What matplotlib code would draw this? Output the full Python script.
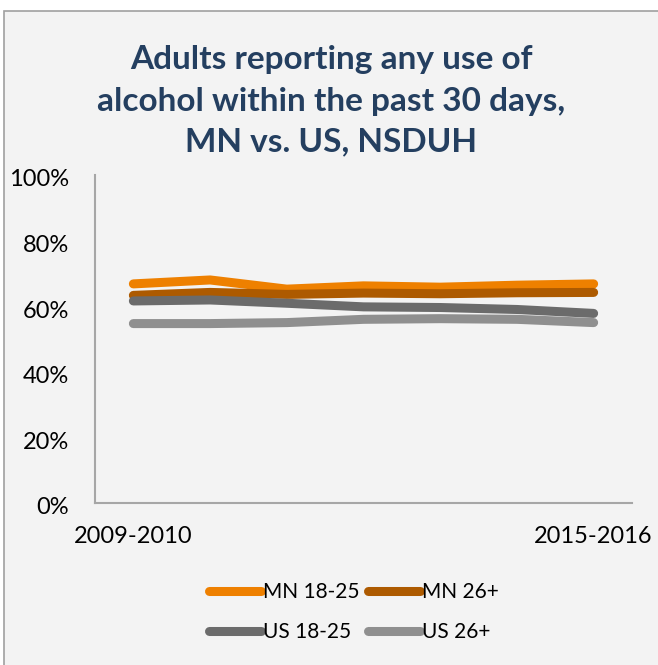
import matplotlib.pyplot as plt
import matplotlib.transforms as mtransforms
from matplotlib.lines import Line2D

# Datos (porcentaje de adultos, lectura aproximada del gráfico)
periods = ["2009-2010", "2010-2011", "2011-2012", "2012-2013",
           "2013-2014", "2014-2015", "2015-2016"]
mn_18_25 = [66.8, 68.0, 65.2, 66.2, 65.8, 66.4, 66.8]
mn_26p = [63.3, 64.2, 63.6, 64.0, 63.8, 64.1, 64.2]
us_18_25 = [61.6, 61.9, 60.9, 59.8, 59.6, 59.0, 57.8]
us_26p = [54.7, 54.7, 55.0, 56.0, 56.2, 56.0, 55.0]

series = [
    ("MN 18-25", mn_18_25, "#EE8000"),
    ("MN 26+", mn_26p, "#AD5A00"),
    ("US 18-25", us_18_25, "#6B6B6B"),
    ("US 26+", us_26p, "#8F8F8F"),
]

plt.rcParams['font.family'] = ['Lato', 'DejaVu Sans']

fig = plt.figure(figsize=(6.58, 6.65), dpi=100)
fig.patch.set_facecolor("white")

# marco gris del gráfico
frame = plt.Rectangle((4 / 658, -0.1), 1.2, 1 - 11 / 665 + 0.1,
                      transform=fig.transFigure, facecolor="#F3F3F3",
                      edgecolor="#A0A0A0", linewidth=1.2, zorder=-10)
fig.patches.append(frame)

ax = fig.add_axes([95 / 658, 1 - 503 / 665, (632 - 95) / 658, (503 - 175) / 665])
ax.set_facecolor("none")
ax.set_zorder(1)

x = list(range(len(periods)))
handles = []
for name, vals, col in series:
    ax.plot(x, vals, color=col, lw=6.5, solid_capstyle="round",
            solid_joinstyle="round", label=name)
    handles.append(Line2D([0], [0], color=col, lw=6.5, solid_capstyle="round"))

ax.set_xlim(-0.5, len(periods) - 0.5)
ax.set_ylim(0, 100)
ax.set_yticks([0, 20, 40, 60, 80, 100])
ax.set_yticklabels([f"{v}%" for v in [0, 20, 40, 60, 80, 100]])
ax.set_xticks(x)
ax.set_xticklabels([p if i in (0, len(periods) - 1) else "" for i, p in enumerate(periods)])

for s in ["top", "right"]:
    ax.spines[s].set_visible(False)
for s in ["left", "bottom"]:
    ax.spines[s].set_color("#A6A6A6")
    ax.spines[s].set_linewidth(1.5)
ax.tick_params(axis="both", length=0, labelsize=17, colors="black")
ax.tick_params(axis="y", pad=18.5)
ax.tick_params(axis="x", pad=16.5)

# etiquetas del eje y un poco más abajo, como en Excel
off = mtransforms.ScaledTranslation(0, -0.03, fig.dpi_scale_trans)
for lab in ax.get_yticklabels():
    lab.set_transform(lab.get_transform() + off)

fig.text(0.503, 1 - 101 / 665,
         "Adults reporting any use of\nalcohol within the past 30 days,\nMN vs. US, NSDUH",
         ha="center", va="center", fontsize=24, fontweight="bold",
         color="#243F60", linespacing=1.5)

order = [0, 2, 1, 3]
fig.legend([handles[i] for i in order], [series[i][0] for i in order],
           ncol=2, loc="center", bbox_to_anchor=(354 / 658, 1 - 612 / 665),
           frameon=False, fontsize=15, handlelength=2.5,
           handletextpad=0.1, columnspacing=0.4, labelspacing=0.95)

fig.savefig("out.png", dpi=100, facecolor=fig.get_facecolor())
